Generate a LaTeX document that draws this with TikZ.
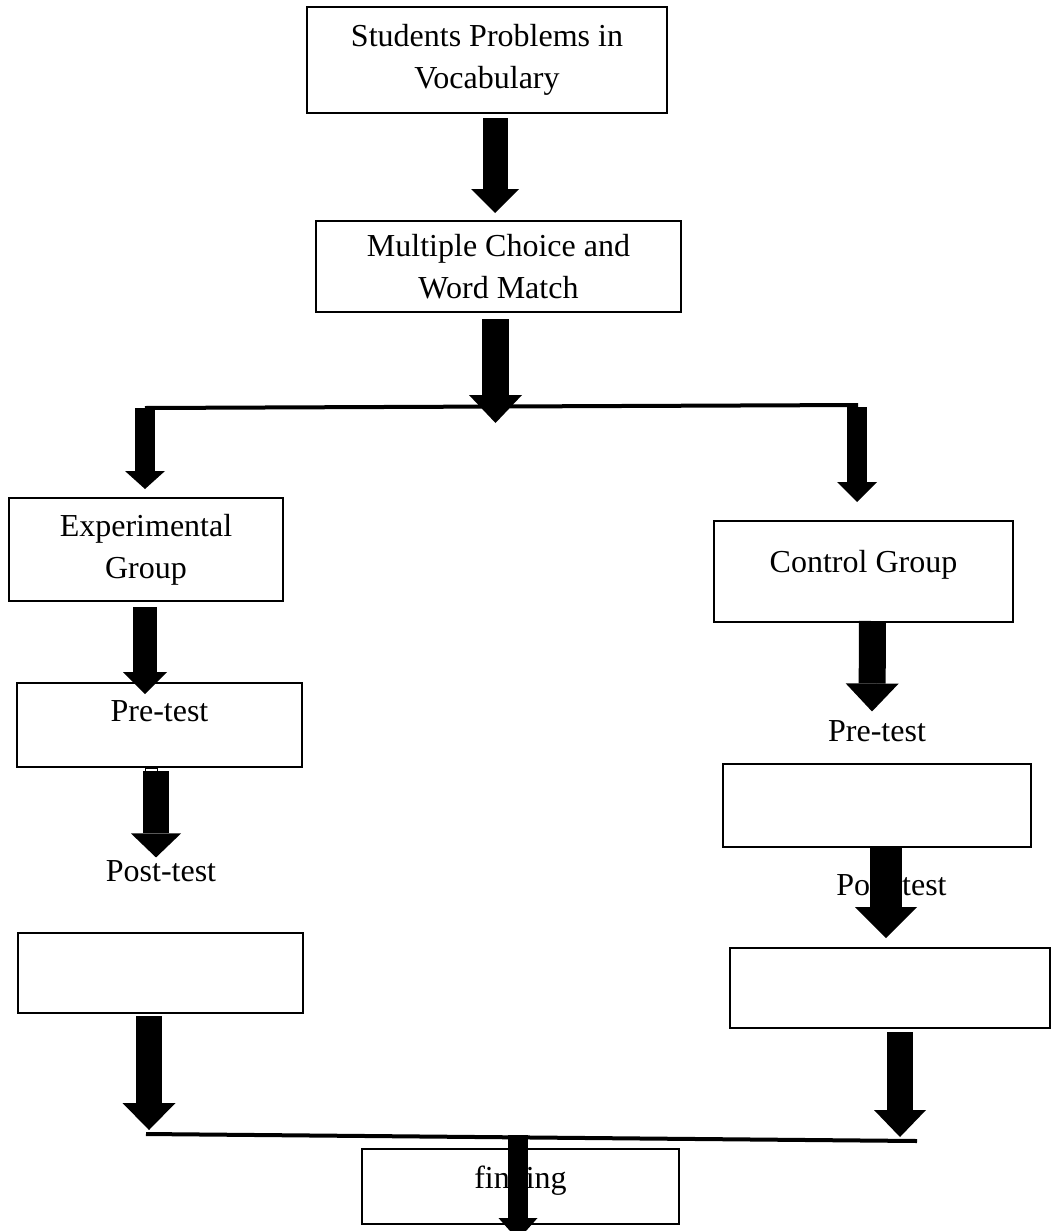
\documentclass[tikz,border=0pt]{standalone}
\usepackage{fontspec}
\setmainfont{Liberation Serif}
\usetikzlibrary{arrows.meta}
\newcommand\liftup[2]{\raisebox{#1}[\height][\depth]{#2}}

\begin{document}
\begin{tikzpicture}[x=0.5pt, y=-0.5pt,
		box/.style={draw, line width=1pt, inner sep=0pt, align=center, font=\fontsize{16}{21}\selectfont},
		boxsize/.style 2 args={minimum width=#1*0.5pt, minimum height=#2*0.5pt},
		lbl/.style={inner sep=0pt, font=\fontsize{16}{21}\selectfont},
		bar/.style={line width=2pt},
		fat/.style n args={3}{line width=#1, -{Triangle[width=#2, length=#3, line width=0pt]}}]
			%%%%% START %%%%%
			
			\clip (0,0) rectangle (1052,1231);
			
			\node[box, boxsize={360}{106}] (prob) at (487,60) {Students Problems in\\Vocabulary};
			\node[box, boxsize={365}{91}] (match) at (498.5,266.5) {Multiple Choice and\\Word Match};
			
			\node[box, boxsize={274}{103}] (expgrp) at (146,549.5) {Experimental\\Group};
			\node[box, boxsize={299}{101}] (ctlgrp) at (863.5,571.5) {\liftup{3.25pt}{Control Group}};
			
			\node[box, boxsize={285}{84}] (exppre) at (159.5,725) {\liftup{6.8pt}{Pre-test}};
			\node[lbl] (ctlpretxt) at (877,731) {Pre-test};
			\node[box, boxsize={308}{83}] (ctlpre) at (877,805.5) {};
			
			\node[lbl] (expposttxt) at (161,871.5) {Post-test};
			\node[box, boxsize={285}{80}] (exppost) at (160.5,973) {};
			\node[lbl] (ctlposttxt) at (891.5,885) {Post-test};
			\node[box, boxsize={320}{80}] (ctlpost) at (890,988) {};
			
			\node[box, boxsize={317}{75}] (finding) at (520.5,1186.5) {\liftup{3pt}{finding}};
			
			\coordinate (jl) at (145,408);
			\coordinate (jr) at (858,405);
			\coordinate (split) at (495.5,423);
			\coordinate (bl) at (146,1134);
			\coordinate (br) at (917,1141);
			\draw[bar] (jl) -- (jr);
			\draw[bar] (bl) -- (br);
			
			\draw[fat={12.5pt}{24pt}{12pt}] ([shift={(8,4)}]prob.south) -- ([shift={(-3.5,-7)}]match.north);
			\draw[fat={13.5pt}{26.5pt}{14pt}] ([shift={(-3,6)}]match.south) -- (split);
			
			\draw[fat={10pt}{20pt}{9pt}] (jl) -- ([shift={(-1,-8)}]expgrp.north);
			\draw[fat={10pt}{20pt}{10pt}] ([shift={(-1,2)}]jr) -- ([shift={(-6.5,-18)}]ctlgrp.north);
			
			\draw[fat={12pt}{22pt}{11pt}] ([shift={(-1,5)}]expgrp.south) -- ([shift={(-14.5,12)}]exppre.north);
			\draw[line width=0.5pt] ([shift={(-14.5,0)}]exppre.south) rectangle +(12,3);
			\draw[fat={13pt}{25pt}{12pt}] ([shift={(-3.5,3)}]exppre.south) -- ([shift={(-5,-3)}]expposttxt.north);
			
			\draw[fat={13.5pt}{26.5pt}{14pt}] ([shift={(9,-2)}]ctlgrp.south) -- ([shift={(-5,-8.5)}]ctlpretxt.north);
			\draw[fat={16pt}{31pt}{15.5pt}] ([shift={(9,0)}]ctlpre.south) -- ([shift={(-4,-9)}]ctlpost.north);
			
			\draw[fat={13pt}{26.5pt}{13.5pt}] ([shift={(-11.5,2)}]exppost.south) -- ([shift={(3,-4)}]bl);
			\draw[fat={13pt}{26pt}{13.5pt}] ([shift={(10,3)}]ctlpost.south) -- ([shift={(-17,-4)}]br);
			
			\draw[fat={10pt}{19.5pt}{11pt}] ([shift={(-2.5,-13)}]finding.north) -- ([shift={(-2.5,15)}]finding.south);
			
			%%%%% END %%%%%
		\end{tikzpicture}
\end{document}
